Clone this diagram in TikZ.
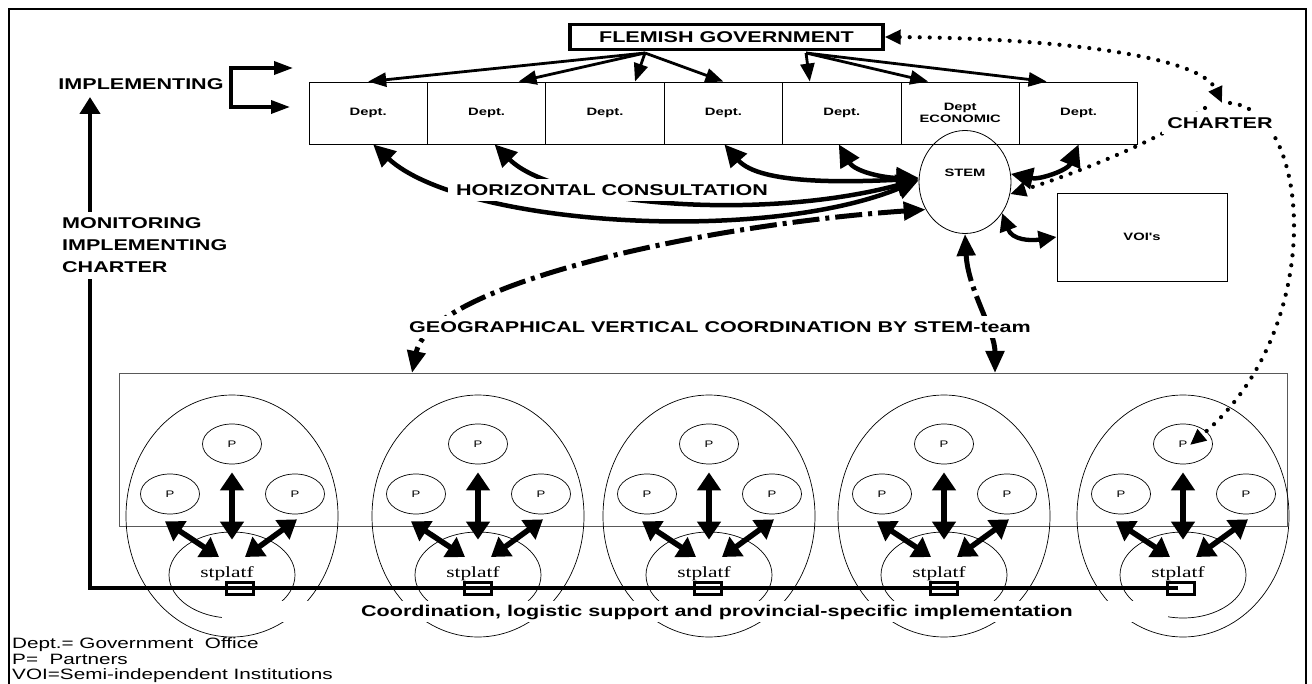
\documentclass[tikz,border=0pt]{standalone}
\usepackage{fontspec}
\setmainfont{Liberation Sans}
\newfontfamily\labfont[FakeStretch=1.38]{Liberation Sans}
\newfontfamily\labserif[FakeStretch=1.38]{Liberation Serif}
\usetikzlibrary{arrows.meta,shapes.geometric,calc}
\tikzset{
  big/.style={font=\labfont\bfseries\fontsize{15.6}{18}\selectfont},
  small/.style={font=\labfont\bfseries\fontsize{10.7}{12.5}\selectfont},
  deptbox/.style={draw, line width=0.9pt, minimum width=118.4pt, minimum height=62pt, inner sep=0pt, small, align=center},
  govbox/.style={draw, line width=3.4pt, minimum width=313pt, minimum height=25pt, inner sep=0pt, big},
  pcirc/.style={draw, ellipse, line width=0.7pt, minimum width=59pt, minimum height=40pt, inner sep=0pt, font=\labfont\fontsize{9.5}{10}\selectfont},
  prov/.style={draw, ellipse, line width=0.7pt, minimum width=212pt, minimum height=242pt, inner sep=0pt},
  platf/.style={draw, ellipse, line width=0.7pt, minimum width=126pt, minimum height=86pt, inner sep=0pt},
  platftext/.style={font=\labserif\fontsize{15.5}{16}\selectfont, inner sep=0pt},
  sbox/.style={draw, line width=2.8pt, minimum width=27pt, minimum height=12pt, inner sep=0pt},
  hd/.tip={Triangle[length=22pt,width=21pt]},
  govarr/.style={line width=2.8pt, -{Triangle[length=18pt,width=14pt]}},
  consarr/.style={line width=4.5pt, hd-hd},
  ddarr/.style={line width=5pt, dash pattern=on 27pt off 6pt on 4pt off 6pt, {Triangle[length=22pt,width=18pt]}-{Triangle[length=22pt,width=18pt]}},
  dotline/.style={line width=4.2pt, line cap=round, dash pattern=on 0pt off 10pt},
  dh/.tip={Triangle[length=16pt,width=14pt]},
  parr/.style={line width=5.5pt, {Triangle[length=18pt,width=23pt]}-{Triangle[length=18pt,width=23pt]}},
  whitelabel/.style={big, fill=white, inner xsep=8pt, inner ysep=5pt},
}
\begin{document}
\begin{tikzpicture}[x=1pt,y=-1pt]
\useasboundingbox (0,0) rectangle (1312,684);
\clip (0,0) rectangle (1312,684);
\fill[white] (0,0) rectangle (1312,684);
% outer frame
\draw[line width=2.5pt] (9,700) -- (9,9) -- (1306,9) -- (1306,700);

% provinces region
\node[draw=black!65, line width=0.8pt, minimum width=1168pt, minimum height=153pt, inner sep=0pt] (region) at (703,449.5) {};
\coordinate (rt1) at (412,373);
\coordinate (rt2) at (995,373);

\foreach \i/\c in {1/232,2/478,3/709,4/944,5/1183}{
  \node[prov] (prov\i) at (\c,516) {};
  \node[platf] (ic\i) at (\c,575) {};
  \node[pcirc] (pt\i) at (\c,444) {P};
  \node[pcirc] (pl\i) at (\c-62,494) {P};
  \node[pcirc] (pr\i) at (\c+63,494) {P};
}
% white band behind the bottom caption
\fill[white] (222,601) rectangle (1168,622);
\node[font=\labfont\bfseries\fontsize{15.6}{18}\selectfont, inner sep=0pt, anchor=base] (coord) at (717,616) {Coordination, logistic support and provincial-specific implementation};

\foreach \i/\c/\b in {1/232/240,2/478/478,3/709/708,4/944/944,5/1183/1181}{
  \draw[parr] ($(pt\i.south)+(0,8)$) -- ($(ic\i.north)+(0,8)$);
  \draw[parr] ($(pl\i.south)+(-5,7)$) -- ($(ic\i.center)+(-13,-18)$);
  \draw[parr] ($(pr\i.south)+(2,5)$) -- ($(ic\i.center)+(13,-18)$);
  \node[platftext, anchor=base] (stl\i) at ($(ic\i.center)+(-5,2)$) {stplatf};
}

% monitoring line
\coordinate (corner) at (90,588);
\coordinate (lend) at (1178,588);
\coordinate (mtip) at (90,97);
\draw[line width=4.6pt, -{Triangle[length=17pt,width=20pt]}] (lend) -- (corner) -- (mtip);

\foreach \i/\c/\b in {1/232/240,2/478/478,3/709/708,4/944/944,5/1183/1181}{
  \node[sbox] (sb\i) at (\b,588.5) {};
}

% top
\node[govbox] (fg) at (726.5,37) {FLEMISH GOVERNMENT};
\node[deptbox] (d1) at (368.2,113) {Dept.};
\node[deptbox] (d2) at (486.6,113) {Dept.};
\node[deptbox] (d3) at (605.0,113) {Dept.};
\node[deptbox] (d4) at (723.4,113) {Dept.};
\node[deptbox] (d5) at (841.8,113) {Dept.};
\node[deptbox] (d6) at (960.2,113) {Dept\\ECONOMIC};
\node[deptbox] (d7) at (1078.6,113) {Dept.};

\coordinate (fgA) at (645,53);
\coordinate (fgB) at (806,53);
\draw[govarr] (fgA) -- (d1.north);
\draw[govarr] (fgA) -- ($(d2.north)+(32,0)$);
\draw[govarr] (fgA) -- ($(d3.north)+(30,0)$);
\draw[govarr] (fgA) -- (d4.north);
\draw[govarr] (fgB) -- ($(d5.north)+(-32,0)$);
\draw[govarr] (fgB) -- ($(d6.north)+(-32,0)$);
\draw[govarr] (fgB) -- ($(d7.north)+(-32,0)$);

\node[draw, ellipse, line width=0.8pt, minimum width=92pt, minimum height=103pt, inner sep=0pt] (stem) at (965,182) {};
\node[small, inner sep=0pt] (stemlabel) at (965,173) {STEM};
\node[draw, line width=0.9pt, minimum width=170pt, minimum height=88pt, inner sep=0pt, small] (voi) at (1142,237) {VOI's};

% implementing bracket
\node[big, inner sep=0pt] (impl) at (141,84) {IMPLEMENTING};
\coordinate (b1) at (293,68);
\coordinate (b2) at (290,107);
\draw[line width=3.5pt, {Triangle[length=19pt,width=13pt]}-{Triangle[length=19pt,width=13pt]}] (b1) -- ++(-62,0) |- (b2);

% horizontal consultation curves
\draw[consarr] ($(d1.south)+(5,0)$) .. controls (460,225) and (760,245) .. (stem.178);
\draw[consarr] ($(d2.south)+(8,0)$) .. controls (555,205) and (760,222) .. (stem.177);
\draw[consarr] ($(d4.south)+(1,0)$) .. controls (760,185) and (850,182) .. (stem.176);
\draw[consarr] ($(d5.south)+(-3,0)$) .. controls (855,172) and (885,178) .. (stem.175);
\draw[consarr] (d7.south) .. controls (1068,170) and (1040,180) .. (stem.10);
\draw[line width=4.3pt, {Triangle[length=18pt,width=17pt]}-{Triangle[length=18pt,width=17pt]}] (stem.-40) .. controls (1012,240) and (1030,241) .. (voi.west);

% geographical coordination
\draw[ddarr] (stem.215) .. controls (700,225) and (430,285) .. (rt1);
\draw[ddarr] (stem.south) .. controls (968,290) and (995,330) .. (rt2);

% charter dotted links
\coordinate (junc) at (1222,103);
\draw[dotline, dh-dh] (fg.east) .. controls (1050,38) and (1200,55) .. (junc);
\draw[dotline, -dh] ($(junc)+(8,0)$) .. controls (1312,110) and (1328,330) .. ($(pt5.center)+(7,1)$);
\draw[dotline, -dh] ($(junc)+(-17,5)$) .. controls (1160,140) and (1080,172) .. (stem.-15);

% labels with white ground
\node[whitelabel] (horiz) at (612,190) {HORIZONTAL CONSULTATION};
\node[whitelabel] (geo) at (720,327) {GEOGRAPHICAL VERTICAL COORDINATION BY STEM-team};
\node[whitelabel, inner xsep=5pt] (charter) at (1220,123) {CHARTER};
\node[big, fill=white, inner xsep=4pt, inner ysep=6pt, align=left, anchor=west, font=\labfont\bfseries\fontsize{15.6}{22}\selectfont] (monit) at (58,245.5) {MONITORING\\IMPLEMENTING\\CHARTER};

% legend
\node[font=\labfont\fontsize{15}{15.5}\selectfont, align=left, anchor=north west, inner sep=0pt] (legend) at (12,637.5) {Dept.= Government\ \ Office\\P=\ \ Partners\\VOI=Semi-independent Institutions};
\end{tikzpicture}
\end{document}
